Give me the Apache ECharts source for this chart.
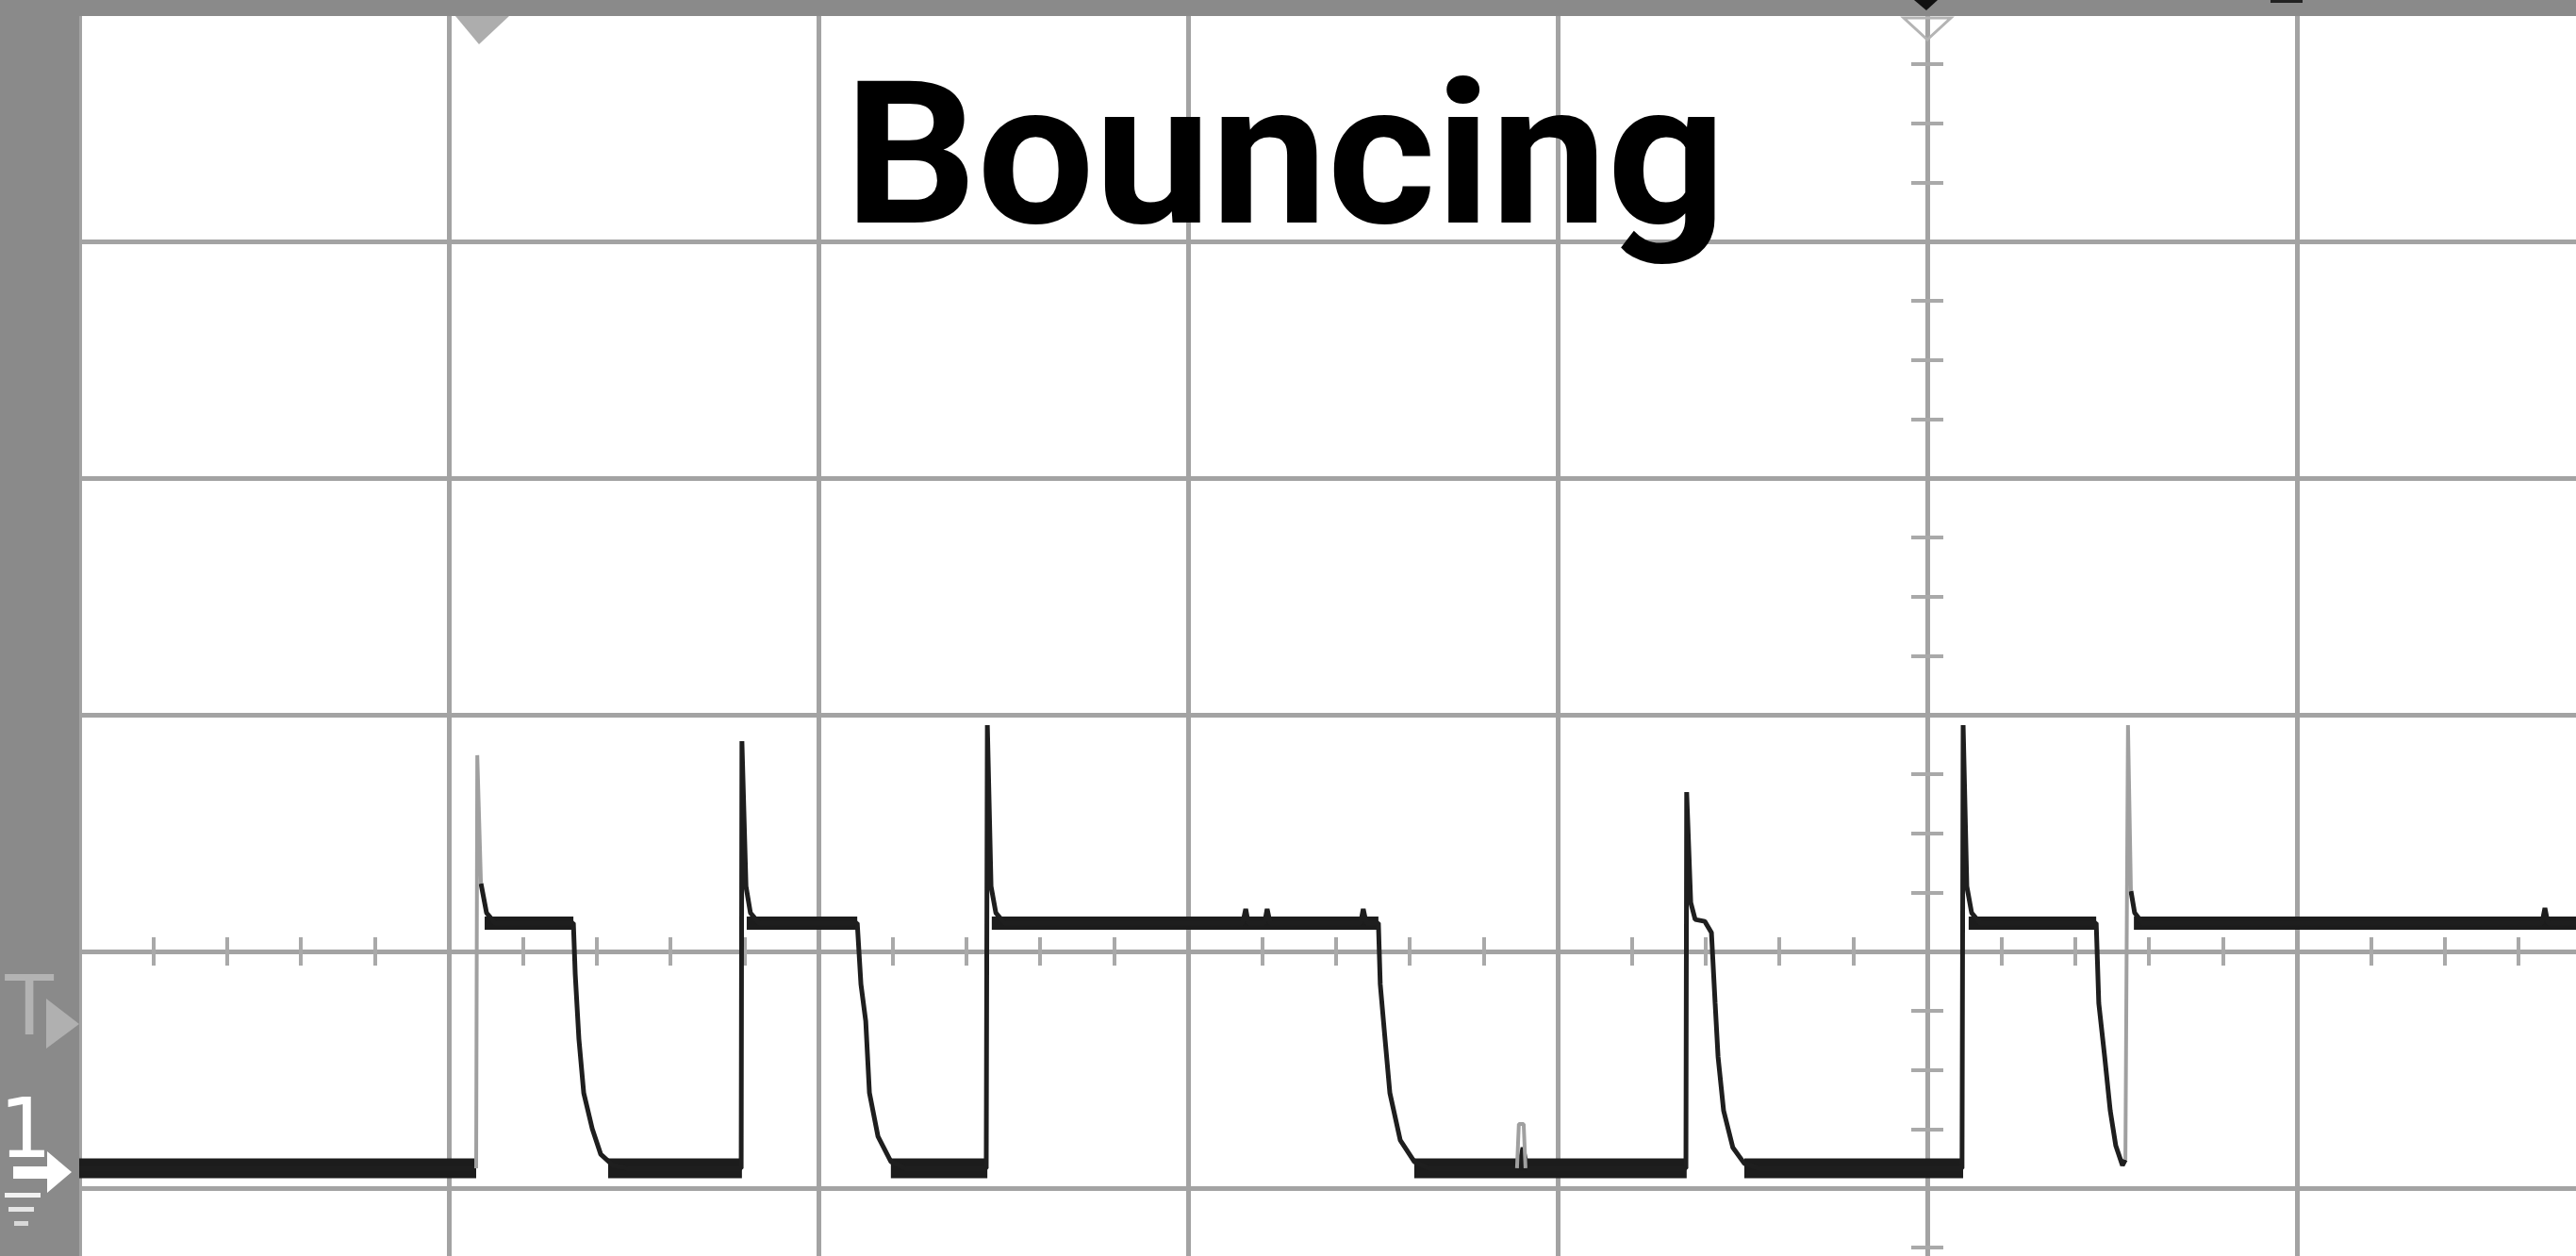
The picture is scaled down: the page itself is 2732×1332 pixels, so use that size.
<!DOCTYPE html>
<html>
<head>
<meta charset="utf-8">
<script src="https://cdn.jsdelivr.net/npm/echarts@6/dist/echarts.min.js"></script>
<style>
  html, body { margin: 0; padding: 0; background: #ffffff; }
  #chart { width: 2732px; height: 1332px; }
</style>
</head>
<body>
<div id="chart"></div>
<script>
// ---- Data (oscilloscope divisions; x: time div from centre line, y: volt div from centre line) ----
const TITLE = 'Bouncing';
const TIME_RANGE = [-5, 2];      // horizontal divisions (grid runs on past the right edge)
const VOLT_RANGE = [-2, 4];      // vertical divisions
const LOW_LEVEL = -0.916;        // contact open (ch1 ground level)
const HIGH_LEVEL = 0.12;         // contact closed

// main (bright) trace
const traceMain = [
  [-5.000, -0.916], [-3.926, -0.916], [-3.926, null],
  [-3.913, 0.287], [-3.898, 0.163], [-3.875, 0.120], [-3.663, 0.120],
  [-3.658, -0.096], [-3.648, -0.371], [-3.635, -0.598], [-3.612, -0.749], [-3.589, -0.857], [-3.556, -0.904], [-3.518, -0.916],
  [-3.209, -0.916], [-3.207, 0.888], [-3.196, 0.275], [-3.184, 0.163], [-3.161, 0.120], [-2.895, 0.120],
  [-2.885, -0.139], [-2.872, -0.295], [-2.862, -0.598], [-2.839, -0.781], [-2.804, -0.888], [-2.765, -0.916],
  [-2.546, -0.916], [-2.543, 0.956], [-2.533, 0.275], [-2.520, 0.163], [-2.497, 0.120],
  [-1.852, 0.120], [-1.844, 0.179], [-1.837, 0.120], [-1.793, 0.120], [-1.786, 0.179], [-1.778, 0.120],
  [-1.533, 0.120], [-1.526, 0.179], [-1.518, 0.120], [-1.485, 0.120],
  [-1.480, -0.139], [-1.467, -0.371], [-1.454, -0.598], [-1.426, -0.797], [-1.388, -0.888], [-1.349, -0.916],
  [-1.105, -0.916], [-1.094, -0.829], [-1.082, -0.916],
  [-0.653, -0.916], [-0.651, 0.673], [-0.640, 0.207], [-0.628, 0.135], [-0.602, 0.127], [-0.584, 0.080],
  [-0.574, -0.219], [-0.566, -0.446], [-0.551, -0.673], [-0.526, -0.829], [-0.495, -0.896], [-0.457, -0.916],
  [0.094, -0.916], [0.097, 0.956], [0.107, 0.275], [0.120, 0.163], [0.143, 0.120], [0.457, 0.120],
  [0.464, -0.219], [0.480, -0.446], [0.495, -0.673], [0.510, -0.821], [0.528, -0.904], [0.536, -0.880], [0.536, null],
  [0.551, 0.255], [0.561, 0.163], [0.582, 0.120], [1.663, 0.120], [1.671, 0.183], [1.679, 0.120], [1.760, 0.120]
];

// faint (fast, low-intensity) parts of the trace
const traceFaint = [
  [-3.926, -0.916], [-3.923, 0.829], [-3.913, 0.287], [-3.913, null],
  [-1.110, -0.916], [-1.105, -0.729], [-1.092, -0.729], [-1.087, -0.916], [-1.087, null],
  [0.536, -0.880], [0.543, 0.956], [0.551, 0.255]
];

// dense (noisy) steady-state stretches of the trace
const lowStretches = [[-5.000, -3.926], [-3.569, -3.207], [-2.804, -2.543], [-1.388, -0.651], [-0.495, 0.097]];
const highStretches = [[-3.903, -3.663], [-3.194, -2.895], [-2.531, -1.485], [0.112, 0.457], [0.559, 1.760]];

// ---- build ----
function bands(stretches, level) {
  const out = [];
  stretches.forEach(s => { out.push([s[0], level], [s[1], level], [s[1], null]); });
  return out;
}

const GRID_COLOR = '#a3a3a3';
const TICK_COLOR = '#a9a9a9';

function xAxisDef(inside, withSplit) {
  return {
    type: 'value', min: TIME_RANGE[0], max: TIME_RANGE[1], interval: 1, position: 'bottom',
    axisLine: { show: false, onZero: true },
    axisTick: { show: false, inside: inside },
    minorTick: { show: true, splitNumber: 5, length: 15, lineStyle: { color: TICK_COLOR, width: 4 } },
    axisLabel: { show: false },
    splitLine: { show: withSplit, lineStyle: { color: GRID_COLOR, width: 5 } },
    minorSplitLine: { show: false }
  };
}
function yAxisDef(inside, withSplit) {
  return {
    type: 'value', min: VOLT_RANGE[0], max: VOLT_RANGE[1], interval: 1, position: 'left',
    axisLine: { show: false, onZero: true },
    axisTick: { show: false, inside: inside },
    minorTick: { show: true, splitNumber: 4, length: 17, lineStyle: { color: TICK_COLOR, width: 4 } },
    axisLabel: { show: false },
    splitLine: { show: withSplit, lineStyle: { color: GRID_COLOR, width: 5 } },
    minorSplitLine: { show: false }
  };
}

const BAND = '#8a8a8a';
const chart = echarts.init(document.getElementById('chart'), null, { renderer: 'canvas' });
chart.setOption({
  animation: false,
  backgroundColor: '#ffffff',
  grid: { left: 84, top: 5, width: 2744, height: 1506, containLabel: false, outerBoundsMode: 'none' },
  xAxis: [xAxisDef(true, true), xAxisDef(false, false)],
  yAxis: [yAxisDef(true, true), yAxisDef(false, false)],
  series: [
    { type: 'line', name: 'low', data: bands(lowStretches, LOW_LEVEL), showSymbol: false, symbol: 'none',
      connectNulls: false, z: 3, lineStyle: { color: '#1c1c1c', width: 21 } },
    { type: 'line', name: 'high', data: bands(highStretches, HIGH_LEVEL), showSymbol: false, symbol: 'none',
      connectNulls: false, z: 3, lineStyle: { color: '#1c1c1c', width: 14 } },
    { type: 'line', name: 'trace', data: traceMain, showSymbol: false, symbol: 'none',
      connectNulls: false, z: 4, lineStyle: { color: '#1e1e1e', width: 5 } },
    { type: 'line', name: 'faint', data: traceFaint, showSymbol: false, symbol: 'none',
      connectNulls: false, z: 5, lineStyle: { color: '#a0a0a0', width: 4 } }
  ],
  graphic: [
    { type: 'rect', z: 100, shape: { x: 0, y: 0, width: 84, height: 1332 }, style: { fill: BAND } },
    { type: 'rect', z: 100, shape: { x: 0, y: 0, width: 2732, height: 17 }, style: { fill: BAND } },
    // top markers
    { type: 'polygon', z: 101, shape: { points: [[483, 17], [540, 17], [508, 47]] }, style: { fill: '#adadad' } },
    { type: 'polygon', z: 101, shape: { points: [[2030, 0], [2055, 0], [2043, 11]] }, style: { fill: '#111' } },
    { type: 'polygon', z: 101, shape: { points: [[2019, 19], [2069, 19], [2044, 42]] }, style: { fill: 'none', stroke: '#b4b4b4', lineWidth: 3 } },
    { type: 'rect', z: 101, shape: { x: 2408, y: 0, width: 34, height: 3 }, style: { fill: '#222' } },
    // left markers
    { type: 'text', z: 101, x: 31, y: 1026, style: { text: 'T', fill: '#b3b3b3', font: '92px "Liberation Sans"', align: 'center', verticalAlign: 'top' } },
    { type: 'polygon', z: 101, shape: { points: [[49, 1059], [49, 1112], [84, 1086]] }, style: { fill: '#b0b0b0' } },
    { type: 'text', z: 101, x: 27, y: 1160, style: { text: '1', fill: '#ffffff', font: '88px "DejaVu Sans"', align: 'center', verticalAlign: 'top' } },
    { type: 'polygon', z: 101, shape: { points: [[14, 1237], [50, 1237], [50, 1221], [76, 1243], [50, 1265], [50, 1250], [14, 1250]] }, style: { fill: '#ffffff' } },
    { type: 'rect', z: 101, shape: { x: 5, y: 1265, width: 38, height: 5 }, style: { fill: '#f2f2f2' } },
    { type: 'rect', z: 101, shape: { x: 9, y: 1280, width: 27, height: 5 }, style: { fill: '#e6e6e6' } },
    { type: 'rect', z: 101, shape: { x: 15, y: 1295, width: 15, height: 5 }, style: { fill: '#d8d8d8' } },
    // title
    { type: 'text', z: 110, x: 1363, y: 183, scaleX: 1.04,
      style: { text: TITLE, fill: '#000000', font: 'bold 212px Roboto', align: 'center', verticalAlign: 'middle' } }
  ]
});
</script>
</body>
</html>
